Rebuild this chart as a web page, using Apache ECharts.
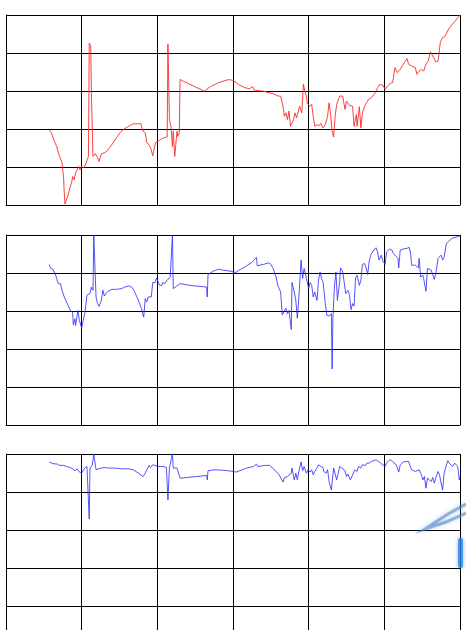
<!DOCTYPE html>
<html>
<head>
<meta charset="utf-8">
<script src="https://cdn.jsdelivr.net/npm/echarts@6/dist/echarts.min.js"></script>
<style>
  html, body { margin: 0; padding: 0; background: #fff; overflow: hidden; }
  #main { width: 466px; height: 660px; }
</style>
</head>
<body>
<div id="main"></div>
<script>
// x: position along the record (0..600), y: percent of panel range (0..100)
const redLine = [[57,39.2],[60,38.1],[63,34.4],[67,30.8],[70,26.5],[74,22.2],[76,15.0],[77,6.3],[78,0.5],[80,1.1],[82,5.3],[85,9.7],[87,12.3],[88,15.0],[90,13.2],[92,16.9],[94,18.5],[96,20.3],[98,18.5],[100,20.3],[103,19.6],[106,22.2],[108,22.9],[109,25.6],[110,85.2],[112,83.8],[113,55.6],[115,25.6],[116,24.9],[118,27.0],[121,24.9],[123,22.9],[126,27.0],[130,27.5],[133,28.2],[137,30.2],[142,33.0],[146,35.4],[151,38.1],[155,39.7],[162,41.4],[168,42.7],[175,42.7],[178,42.9],[181,38.8],[184,38.1],[186,32.8],[189,31.7],[191,30.2],[194,25.9],[196,30.2],[198,33.0],[201,33.5],[204,34.4],[208,35.3],[213,35.8],[214,84.7],[216,45.0],[218,41.4],[220,30.8],[221,38.8],[223,25.6],[226,38.8],[227,36.1],[229,37.9],[230,66.1],[234,65.2],[248,62.6],[262,59.9],[270,62.3],[283,64.7],[294,66.0],[300,65.6],[307,63.5],[316,61.7],[322,61.2],[326,62.3],[328,60.5],[340,59.9],[353,58.6],[360,57.3],[363,57.3],[366,52.0],[368,46.7],[370,48.5],[372,45.0],[374,49.4],[376,41.4],[380,45.0],[382,48.5],[384,45.9],[388,52.0],[391,48.5],[393,63.5],[395,60.0],[397,57.3],[398,53.8],[401,52.0],[404,52.9],[406,46.7],[408,41.4],[411,42.3],[414,41.8],[416,42.9],[419,40.6],[422,42.3],[425,46.7],[427,53.8],[429,47.6],[431,38.8],[433,35.8],[435,46.7],[437,52.9],[441,57.3],[445,57.3],[448,50.3],[450,54.7],[454,52.4],[458,52.0],[460,41.4],[463,47.6],[464,41.4],[467,51.7],[469,40.6],[471,48.5],[475,52.9],[479,55.6],[483,56.5],[488,59.1],[491,61.7],[494,63.5],[498,63.0],[501,60.8],[504,62.6],[508,64.0],[511,64.4],[514,72.3],[517,69.7],[521,71.4],[525,74.1],[530,77.1],[532,74.1],[536,73.2],[541,72.3],[543,68.8],[546,70.5],[549,71.4],[552,70.5],[555,74.1],[558,75.8],[561,80.6],[565,77.6],[568,75.3],[571,75.8],[574,85.6],[577,88.2],[580,88.7],[585,92.6],[589,94.7],[595,97.5],[600,100]];

const blueMid = [[57,84.5],[59,82.4],[62,82.0],[65,79.7],[67,77.1],[69,74.4],[72,74.4],[74,70.9],[77,67.4],[79,65.6],[82,63.0],[85,60.3],[87,60.3],[88,59.4],[89,52.8],[91,55.9],[92,52.4],[95,60.3],[97,55.0],[100,51.0],[102,55.0],[104,58.6],[106,64.7],[107,68.3],[109,67.4],[111,69.2],[113,72.6],[115,70.9],[116,100],[118,100],[119,67.4],[121,63.9],[123,62.4],[126,65.6],[128,70.9],[130,67.9],[132,69.2],[135,70.4],[140,71.4],[146,71.4],[153,71.8],[157,72.6],[162,73.2],[166,72.6],[169,70.9],[173,67.4],[176,64.7],[179,61.2],[182,56.8],[184,66.5],[186,64.7],[188,67.4],[190,67.9],[192,67.4],[194,75.0],[197,75.0],[199,77.4],[203,73.5],[206,73.5],[207,75.0],[210,74.4],[213,76.2],[217,77.9],[219,78.8],[220,100],[221,71.8],[223,70.9],[230,74.4],[243,73.5],[265,72.6],[266,67.4],[267,79.2],[274,81.0],[281,82.0],[287,81.5],[296,81.0],[304,80.3],[308,81.5],[316,83.2],[325,85.6],[331,88.2],[332,83.8],[340,84.5],[347,85.3],[350,84.5],[353,82.4],[357,77.9],[359,73.5],[361,71.8],[363,70.0],[365,58.0],[367,58.0],[370,61.5],[372,58.6],[374,60.3],[377,50.3],[378,75.0],[381,70.0],[383,65.6],[385,56.2],[387,66.8],[390,86.8],[392,77.1],[394,82.4],[397,77.1],[400,71.8],[402,75.0],[404,73.5],[406,67.4],[408,70.0],[411,65.6],[413,76.2],[415,80.6],[417,77.1],[419,75.3],[422,63.9],[424,57.7],[427,57.3],[430,58.6],[431,29.5],[432,55.9],[434,72.6],[436,80.6],[438,65.6],[441,75.3],[442,82.7],[445,80.6],[447,81.5],[449,69.2],[452,70.9],[454,68.3],[456,60.7],[458,63.9],[460,62.6],[462,77.4],[464,78.8],[467,73.5],[469,76.2],[471,84.5],[474,85.0],[476,82.7],[478,79.2],[480,86.2],[482,89.4],[485,91.5],[487,91.2],[489,93.3],[491,91.2],[493,86.8],[496,89.4],[498,86.2],[501,84.5],[503,91.2],[507,92.6],[510,92.1],[512,90.3],[515,89.0],[518,87.7],[519,82.7],[521,92.1],[525,92.6],[530,93.0],[533,93.5],[535,89.4],[536,84.1],[541,84.1],[545,82.7],[546,87.7],[548,77.9],[551,78.8],[552,77.1],[555,70.4],[557,82.4],[559,82.4],[562,81.5],[564,82.4],[566,76.7],[568,79.7],[571,87.7],[573,88.5],[575,89.4],[577,86.8],[579,88.5],[582,95.6],[585,96.5],[589,98.3],[593,98.6],[600,99.6]];

const blueLow = [[57,95.8],[62,94.9],[68,94.7],[71,94.0],[76,94.0],[80,93.4],[85,92.9],[88,92.2],[91,91.2],[94,92.2],[97,90.5],[100,89.9],[102,90.8],[104,92.6],[107,93.4],[109,92.6],[110,65.8],[111,92.6],[114,94.0],[116,100],[119,91.7],[122,92.2],[126,92.6],[130,92.9],[135,92.6],[144,92.6],[153,92.2],[162,92.2],[168,91.7],[173,90.5],[177,89.4],[181,88.1],[184,89.9],[186,91.7],[189,94.0],[191,92.9],[194,94.3],[197,94.0],[200,93.4],[204,93.4],[208,93.4],[212,92.9],[214,75.8],[216,92.9],[218,93.4],[220,100],[221,92.6],[223,93.4],[226,92.6],[228,93.4],[230,87.3],[243,87.8],[265,88.7],[266,86.4],[267,91.2],[276,91.7],[285,91.5],[294,91.2],[304,90.5],[309,91.2],[318,92.6],[327,93.4],[331,94.7],[333,93.4],[342,94.0],[349,94.0],[353,92.2],[358,90.5],[361,89.0],[363,88.1],[366,85.2],[368,87.6],[370,86.9],[372,88.1],[374,87.3],[377,89.9],[378,92.6],[381,86.4],[383,89.9],[385,86.4],[387,90.8],[390,95.8],[392,91.2],[394,93.4],[397,89.9],[399,91.7],[402,90.5],[404,91.7],[406,89.0],[408,90.8],[411,92.6],[413,94.3],[416,93.4],[419,92.9],[420,90.8],[423,89.9],[425,91.7],[427,85.5],[430,81.1],[433,92.6],[435,93.4],[437,86.4],[439,87.3],[441,93.4],[444,92.6],[446,93.4],[448,91.2],[450,88.1],[452,89.4],[455,86.4],[457,88.1],[459,87.3],[461,91.7],[464,90.8],[466,93.4],[469,92.6],[471,94.3],[475,94.0],[477,95.2],[480,95.2],[483,96.1],[486,96.5],[489,97.0],[492,96.1],[495,95.2],[498,94.3],[501,93.4],[503,95.2],[507,97.0],[510,96.5],[513,95.2],[516,94.3],[519,90.5],[521,94.3],[525,95.8],[529,96.1],[532,96.1],[534,96.5],[536,91.7],[538,92.2],[541,90.8],[543,89.9],[546,91.7],[549,89.0],[551,86.4],[553,88.1],[555,82.0],[557,87.3],[559,88.1],[562,85.5],[564,87.6],[566,84.7],[568,87.3],[571,90.8],[573,89.0],[575,84.7],[577,81.1],[579,89.9],[582,94.3],[584,96.5],[586,95.2],[588,95.8],[590,93.4],[593,95.2],[595,94.7],[597,93.4],[599,86.4],[600,88.1]];

const panels = [
  { data: redLine, color: 'rgba(255,30,30,0.85)', top: 15 },
  { data: blueMid, color: 'rgba(40,40,255,0.8)', top: 235 },
  { data: blueLow, color: 'rgba(40,40,255,0.8)', top: 454 }
];

// container is a bit taller than the window so the last panel runs off the bottom
const chart = echarts.init(document.getElementById('main'));

const gridLine = { show: true, lineStyle: { color: '#000', width: 1 } };

chart.setOption({
  animation: false,
  grid: panels.map(p => ({ left: 6, top: p.top, width: 454, height: 190, containLabel: false })),
  xAxis: panels.map((p, i) => ({
    type: 'value', gridIndex: i, min: 0, max: 600, interval: 100,
    axisLabel: { show: false }, axisTick: { show: false },
    axisLine: { show: true, lineStyle: { color: '#000' } },
    splitLine: gridLine
  })),
  yAxis: panels.map((p, i) => ({
    type: 'value', gridIndex: i, min: 0, max: 100, interval: 20,
    axisLabel: { show: false }, axisTick: { show: false },
    axisLine: { show: true, lineStyle: { color: '#000' } },
    splitLine: gridLine
  })),
  // faint blurred blue smudge that sits over the lower right corner
  graphic: [
    { type: 'polyline', z: 100, shape: { points: [[466, 504], [448, 514], [425, 529], [446, 522], [466, 513]] },
      style: { fill: null, stroke: 'rgba(70,130,200,0.55)', lineWidth: 3, shadowBlur: 4, shadowColor: 'rgba(70,130,200,0.6)' } },
    { type: 'rect', z: 100, shape: { x: 458, y: 538, width: 5, height: 30, r: 2 },
      style: { fill: 'rgba(40,130,230,0.75)', shadowBlur: 4, shadowColor: 'rgba(40,130,230,0.7)' } }
  ],
  series: panels.map((p, i) => ({
    type: 'line', xAxisIndex: i, yAxisIndex: i,
    data: p.data, showSymbol: false, symbol: 'none',
    lineStyle: { color: p.color, width: 1 },
    clip: false
  }))
});
</script>
</body>
</html>
